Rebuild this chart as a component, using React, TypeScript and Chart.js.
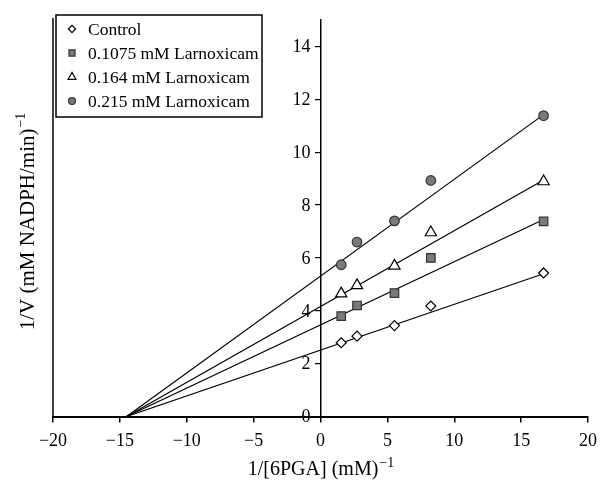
import React, { useEffect, useRef } from 'react';
import { Chart, registerables } from 'chart.js';

Chart.register(...registerables);

// ---- data ----
const xValues = [1.55, 2.73, 5.53, 8.25, 16.68];
const controlValues = [2.79, 3.04, 3.44, 4.18, 5.43];
const larn1075Values = [3.8, 4.2, 4.67, 6.0, 7.38];
const larn164Values = [4.65, 4.96, 5.7, 6.96, 8.89];
const larn215Values = [5.74, 6.6, 7.4, 8.93, 11.38];

const seriesLabels = ['Control', '0.1075 mM Larnoxicam', '0.164 mM Larnoxicam', '0.215 mM Larnoxicam'];

// regression lines: x from the common intercept to the last point
const fitX = [-14.5, 16.68];
const controlFit = [0, 5.4];
const larn1075Fit = [0, 7.45];
const larn164Fit = [0, 8.95];
const larn215Fit = [0, 11.42];

const xTicks = [-20, -15, -10, -5, 0, 5, 10, 15, 20];
const yTicks = [0, 2, 4, 6, 8, 10, 12, 14];

const xTitle = '1/[6PGA] (mM)';
const xTitleSup = '\u22121';
const yTitle = '1/V (mM NADPH/min)';
const yTitleSup = '\u22121';

const FONT = '"Liberation Serif", "Times New Roman", serif';

type MarkerStyle = { shape: string; fill: string; stroke: string };
const markerStyles: MarkerStyle[] = [
  { shape: 'rectRot', fill: '#ffffff', stroke: '#000000' },
  { shape: 'rect', fill: '#7a7a7a', stroke: '#333333' },
  { shape: 'triangle', fill: '#ffffff', stroke: '#000000' },
  { shape: 'circle', fill: '#7a7a7a', stroke: '#333333' },
];
const markerRadius = [5, 6, 6.5, 4.8];
const legendRadius = [3.6, 4.3, 4.6, 3.5];

function drawMarker(ctx: CanvasRenderingContext2D, shape: string, x: number, y: number, r: number, fill: string, stroke: string) {
  ctx.save();
  ctx.beginPath();
  if (shape === 'circle') {
    ctx.arc(x, y, r, 0, Math.PI * 2);
  } else if (shape === 'rect') {
    const s = Math.SQRT1_2 * r;
    ctx.rect(x - s, y - s, 2 * s, 2 * s);
  } else if (shape === 'rectRot') {
    ctx.moveTo(x - r, y);
    ctx.lineTo(x, y - r);
    ctx.lineTo(x + r, y);
    ctx.lineTo(x, y + r);
    ctx.closePath();
  } else if (shape === 'triangle') {
    let rad = 0;
    ctx.moveTo(x + Math.sin(rad) * r, y - Math.cos(rad) * r);
    rad += (2 * Math.PI) / 3;
    ctx.lineTo(x + Math.sin(rad) * r, y - Math.cos(rad) * r);
    rad += (2 * Math.PI) / 3;
    ctx.lineTo(x + Math.sin(rad) * r, y - Math.cos(rad) * r);
    ctx.closePath();
  }
  ctx.fillStyle = fill;
  ctx.fill();
  ctx.lineWidth = 1.2;
  ctx.strokeStyle = stroke;
  ctx.stroke();
  ctx.restore();
}

function drawWithSup(ctx: CanvasRenderingContext2D, main: string, sup: string, cx: number, baseY: number, size: number, supSize: number) {
  ctx.font = `${size}px ${FONT}`;
  const w1 = ctx.measureText(main).width;
  ctx.font = `${supSize}px ${FONT}`;
  const w2 = ctx.measureText(sup).width;
  const start = cx - (w1 + w2) / 2;
  ctx.textAlign = 'left';
  ctx.textBaseline = 'alphabetic';
  ctx.font = `${size}px ${FONT}`;
  ctx.fillText(main, start, baseY);
  ctx.font = `${supSize}px ${FONT}`;
  ctx.fillText(sup, start + w1 + 1, baseY - size * 0.42);
}

const Y_TICK_LEN = 5;

const decorPlugin = {
  id: 'decor',
  afterDraw(chart: any) {
    const ctx: CanvasRenderingContext2D = chart.ctx;
    const area = chart.chartArea;
    ctx.save();
    // left frame line at x = -20
    ctx.strokeStyle = '#000';
    ctx.lineWidth = 1.5;
    ctx.beginPath();
    ctx.moveTo(area.left, area.top - 2);
    ctx.lineTo(area.left, area.bottom);
    ctx.stroke();

    // y tick labels, left of the axis that crosses at x = 0
    const ys = chart.scales.y;
    const xs = chart.scales.x;
    const axisX = xs.getPixelForValue(0);
    ctx.fillStyle = '#000';
    ctx.font = `18px ${FONT}`;
    ctx.textAlign = 'right';
    ctx.textBaseline = 'middle';
    ys.ticks.forEach((t: any) => {
      ctx.fillText(String(t.value), axisX - Y_TICK_LEN - 5, ys.getPixelForValue(t.value) + 1);
    });

    // legend box
    const bx = 56, by = 15, bw = 206, bh = 102;
    ctx.fillStyle = '#fff';
    ctx.fillRect(bx, by, bw, bh);
    ctx.lineWidth = 1.5;
    ctx.strokeRect(bx, by, bw, bh);
    const rows = [29, 53, 77, 101];
    seriesLabels.forEach((label, i) => {
      const m = markerStyles[i];
      drawMarker(ctx, m.shape, 72, rows[i], legendRadius[i], m.fill, m.stroke);
      ctx.fillStyle = '#000';
      ctx.font = `17.5px ${FONT}`;
      ctx.textAlign = 'left';
      ctx.textBaseline = 'middle';
      ctx.fillText(label, 88, rows[i] + 1);
    });

    // axis titles
    ctx.fillStyle = '#000';
    drawWithSup(ctx, xTitle, xTitleSup, (xs.left + xs.right) / 2, 475, 20, 14);
    ctx.save();
    ctx.translate(34, 222);
    ctx.rotate(-Math.PI / 2);
    drawWithSup(ctx, yTitle, yTitleSup, 0, 0, 21, 14);
    ctx.restore();
    ctx.restore();
  },
};

const pointSets = [controlValues, larn1075Values, larn164Values, larn215Values];
const fitSets = [controlFit, larn1075Fit, larn164Fit, larn215Fit];

export default function App() {
  const canvasRef = useRef<HTMLCanvasElement | null>(null);

  useEffect(() => {
    if (!canvasRef.current) return;
    const pointDatasets = pointSets.map((vals, i) => ({
      label: seriesLabels[i],
      data: xValues.map((x, j) => ({ x, y: vals[j] })),
      showLine: false,
      pointStyle: markerStyles[i].shape,
      pointRadius: markerRadius[i],
      pointBackgroundColor: markerStyles[i].fill,
      pointBorderColor: markerStyles[i].stroke,
      pointBorderWidth: 1.2,
    }));
    const fitDatasets = fitSets.map((vals, i) => ({
      label: seriesLabels[i] + ' fit',
      data: fitX.map((x, j) => ({ x, y: vals[j] })),
      showLine: true,
      borderColor: '#000',
      borderWidth: 1.2,
      pointRadius: 0,
      fill: false,
    }));

    const chart = new Chart(canvasRef.current, {
      type: 'scatter',
      data: { datasets: [...pointDatasets, ...fitDatasets] as any },
      options: {
        animation: false,
        responsive: true,
        maintainAspectRatio: false,
        layout: { padding: { top: 20, left: 53, right: 6.5, bottom: 27 } },
        plugins: {
          legend: { display: false },
          tooltip: { enabled: false },
        },
        scales: {
          x: {
            type: 'linear',
            min: -20,
            max: 20,
            afterBuildTicks: (scale: any) => {
              scale.ticks = xTicks.map((v) => ({ value: v }));
            },
            ticks: {
              color: '#000',
              font: { family: FONT, size: 18, lineHeight: 1.75 },
              padding: 3,
              maxRotation: 0,
              autoSkip: false,
              callback: (v: any) => (Number(v) < 0 ? '\u2212' + Math.abs(Number(v)) : String(v)),
            },
            grid: { drawOnChartArea: false, drawTicks: true, tickLength: 6, color: '#000', lineWidth: 1.5 },
            border: { display: true, color: '#000', width: 2 },
          },
          y: {
            type: 'linear',
            position: { x: 0 } as any,
            min: 0,
            max: 15,
            afterBuildTicks: (scale: any) => {
              scale.ticks = yTicks.map((v) => ({ value: v }));
            },
            ticks: {
              display: false,
            },
            grid: { drawOnChartArea: false, drawTicks: true, tickLength: Y_TICK_LEN, color: '#000', lineWidth: 1.2 },
            border: { display: true, color: '#000', width: 1.5 },
          },
        },
      },
      plugins: [decorPlugin],
    });
    return () => chart.destroy();
  }, []);

  return (
    <div style={{ position: 'absolute', left: 0, top: 0, width: 600, height: 487, background: '#fff' }}>
      <canvas ref={canvasRef} />
    </div>
  );
}
